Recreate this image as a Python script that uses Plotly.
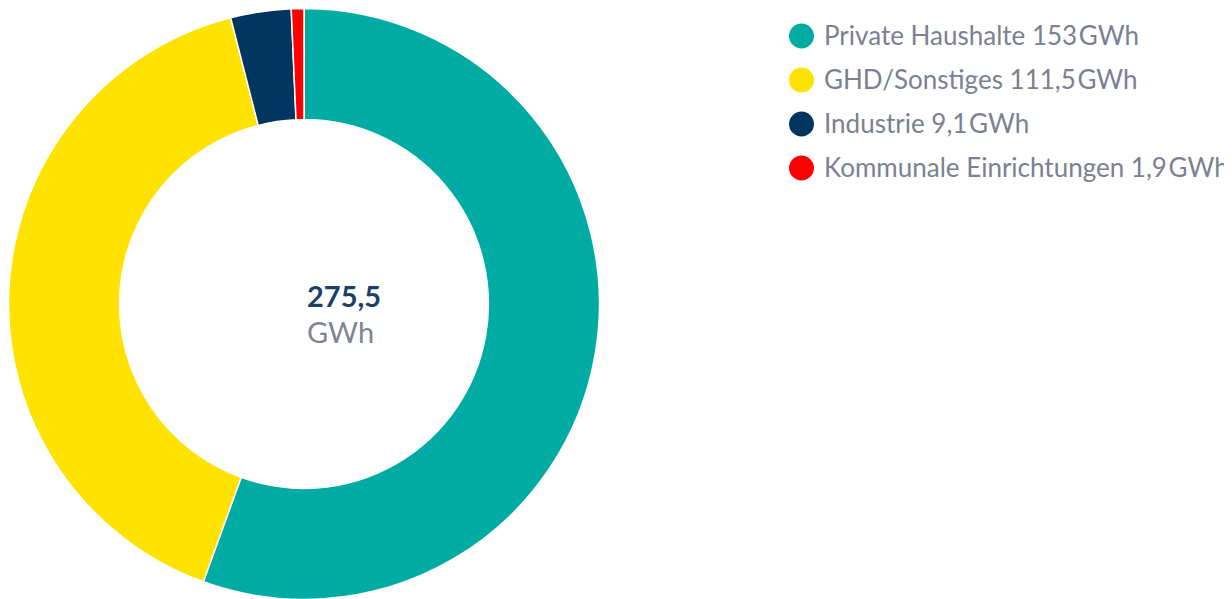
import plotly.graph_objects as go

labels = ["Private Haushalte", "GHD/Sonstiges", "Industrie", "Kommunale Einrichtungen"]
values = [153, 111.5, 9.1, 1.9]
colors = ["#00ABA4", "#FFE200", "#003660", "#FF0000"]
total_label = "275,5"
unit = "GWh"

W, H = 1232, 599
OFF = 8  # page body margin

def fmt(v):
    return ("%g" % v).replace(".", ",")

def px(x):
    return (x - OFF) / W

def py(y):
    return 1 - (y - OFF) / H

cx, cy0, R = 304, 304, 295.5
fig = go.Figure()
fig.add_trace(go.Pie(
    labels=labels, values=values, sort=False, direction="clockwise", rotation=0,
    hole=0.624, marker=dict(colors=colors, line=dict(color="white", width=1.5)),
    textinfo="none", hoverinfo="label+value", showlegend=False,
    domain=dict(x=[px(cx - R), px(cx + R)], y=[py(cy0 + R), py(cy0 - R)]),
))

# legend drawn as circles + labels
leg_x, leg_y0, leg_dy, r = 801.5, 36, 44, 12.5
for i, (lab, v, c) in enumerate(zip(labels, values, colors)):
    cy = leg_y0 + i * leg_dy
    fig.add_shape(type="circle", xref="paper", yref="paper",
                  x0=px(leg_x - r), x1=px(leg_x + r), y0=py(cy + r), y1=py(cy - r),
                  fillcolor=c, line=dict(width=0))
    fig.add_annotation(x=px(822), y=py(cy - 1), xref="paper", yref="paper",
                       xanchor="left", yanchor="middle", showarrow=False,
                       text=f"{lab} {fmt(v)}\u200a{unit}",
                       font=dict(family="Lato", size=26, color="#7B8092"))

fig.add_annotation(x=px(304.5), y=py(295), xref="paper", yref="paper",
                   text=f"<b>{total_label}</b>", showarrow=False,
                   font=dict(family="Lato", size=29, color="#1B3F66"))
fig.add_annotation(x=px(304.5), y=py(331), xref="paper", yref="paper",
                   text=unit, showarrow=False,
                   font=dict(family="Lato", size=29, color="#7F8594"))

fig.update_layout(
    width=W, height=H,
    margin=dict(l=0, r=0, t=0, b=0),
    paper_bgcolor="white", plot_bgcolor="white",
    showlegend=False,
    font=dict(family="Lato"),
)
fig.write_html("out.html")
